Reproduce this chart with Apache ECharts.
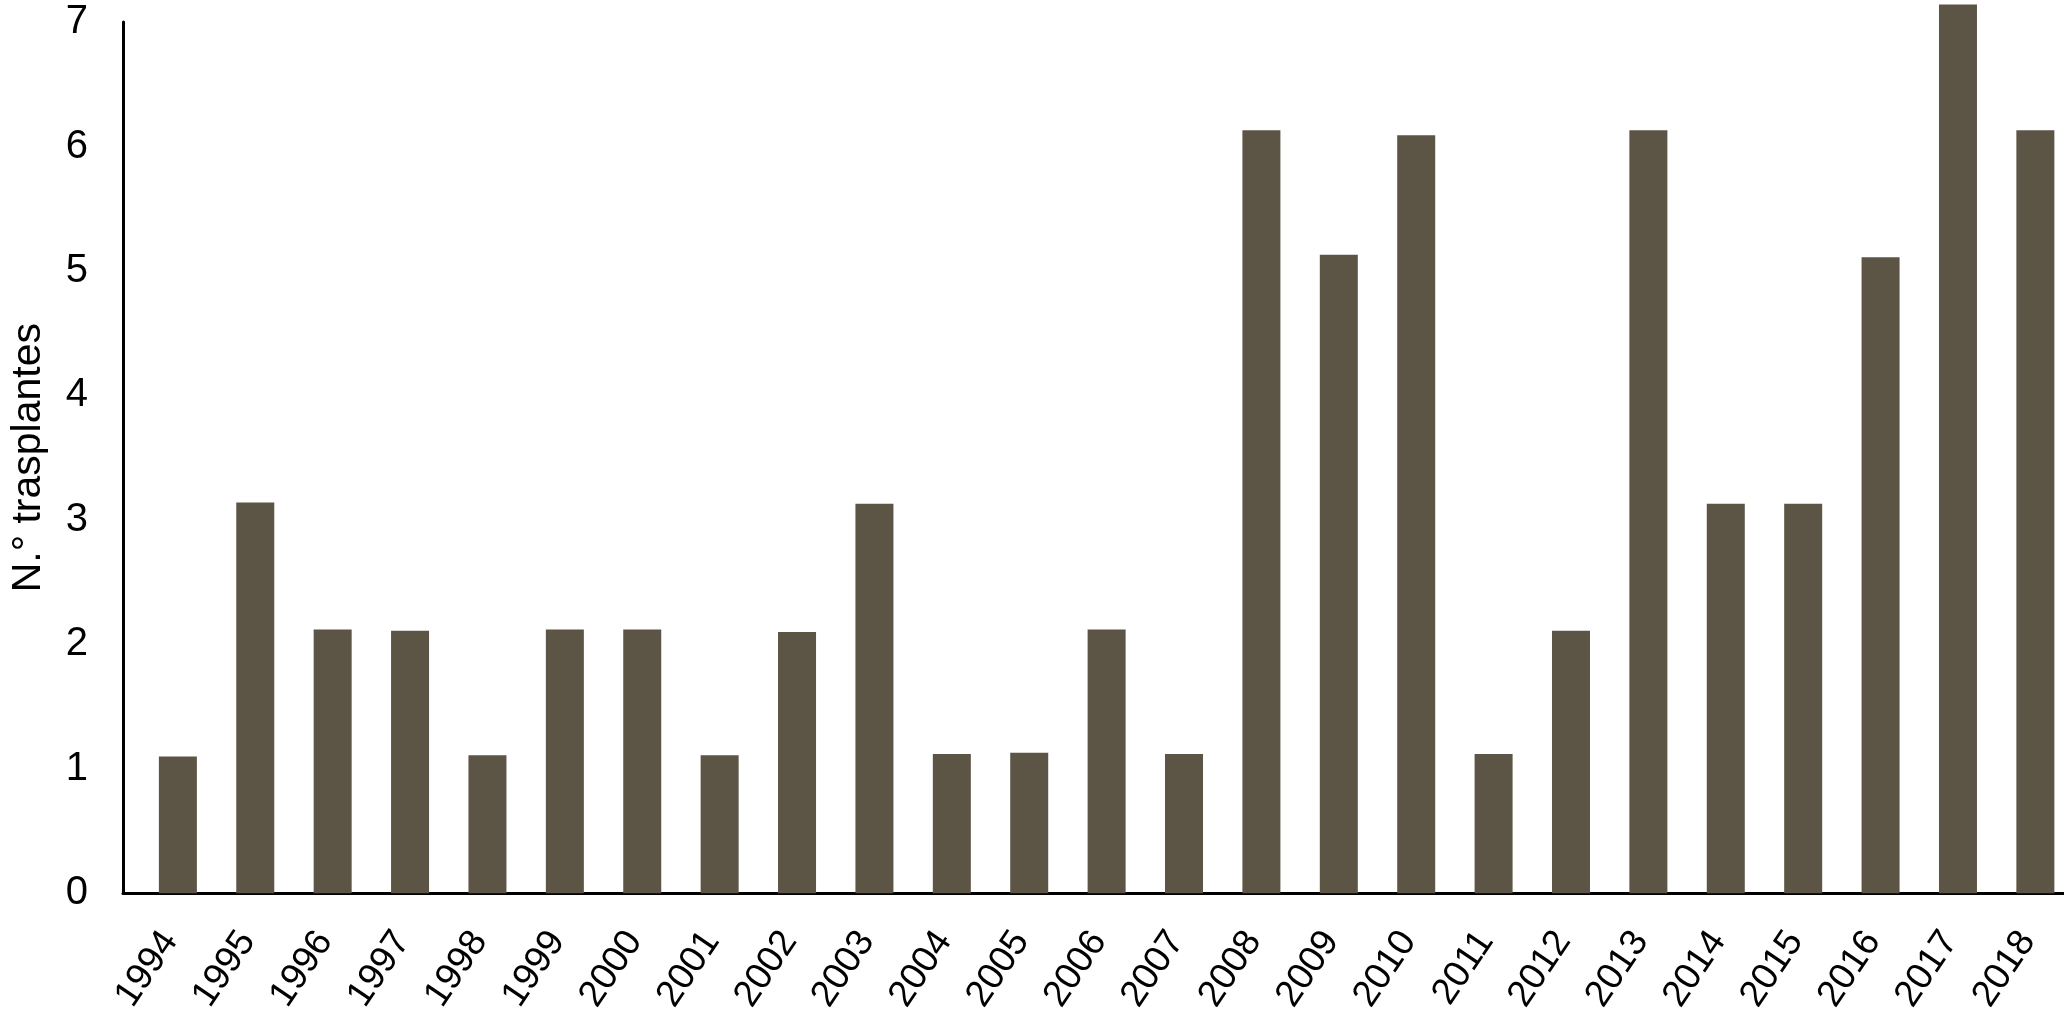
<!DOCTYPE html>
<html>
<head>
<meta charset="utf-8">
<script src="https://cdn.jsdelivr.net/npm/echarts@6/dist/echarts.min.js"></script>
<style>
html,body{margin:0;padding:0;background:#fff;}
#chart{width:2064px;height:1016px;}
</style>
</head>
<body>
<div id="chart"></div>
<script>
const years = ['1994','1995','1996','1997','1998','1999','2000','2001','2002','2003','2004','2005','2006','2007','2008','2009','2010','2011','2012','2013','2014','2015','2016','2017','2018'];
const transplants = [1.10,3.14,2.12,2.11,1.11,2.12,2.12,1.11,2.10,3.13,1.12,1.13,2.12,1.12,6.13,5.13,6.09,1.12,2.11,6.13,3.13,3.13,5.11,7.14,6.13];
const yTicks = [0,1,2,3,4,5,6,7];
const yAxisName = 'N.° trasplantes';

const positions = years.map((y, i) => i);
const chart = echarts.init(document.getElementById('chart'));
chart.setOption({
  backgroundColor: '#ffffff',
  animation: false,
  textStyle: { fontFamily: 'Liberation Sans' },
  grid: { left: 117, right: 0, top: 22, bottom: 121 },
  xAxis: {
    type: 'value',
    min: -0.709,
    max: 24.37,
    axisLine: { show: true, onZero: false, lineStyle: { color: '#000', width: 3 } },
    axisTick: { show: false },
    splitLine: { show: false },
    axisLabel: {
      customValues: positions,
      formatter: v => years[Math.round(v)],
      rotate: 56,
      margin: 30,
      padding: [0, 14, 0, 0],
      fontSize: 37,
      color: '#000',
      fontFamily: 'Liberation Sans'
    }
  },
  yAxis: {
    type: 'value',
    min: yTicks[0],
    max: yTicks[yTicks.length - 1],
    interval: 1,
    name: yAxisName,
    nameLocation: 'middle',
    nameGap: 74,
    nameRotate: 90,
    nameTextStyle: { fontSize: 41, color: '#000', fontFamily: 'Liberation Sans' },
    axisLine: { show: true, onZero: false, lineStyle: { color: '#000', width: 3 } },
    axisTick: { show: false },
    splitLine: { show: false },
    axisLabel: { fontSize: 40, color: '#000', margin: 35, fontFamily: 'Liberation Sans' }
  },
  series: [{
    type: 'bar',
    data: transplants.map((v, i) => [positions[i], v]),
    barWidth: 38,
    clip: false,
    itemStyle: { color: '#5c5444' }
  }]
});
</script>
</body>
</html>
